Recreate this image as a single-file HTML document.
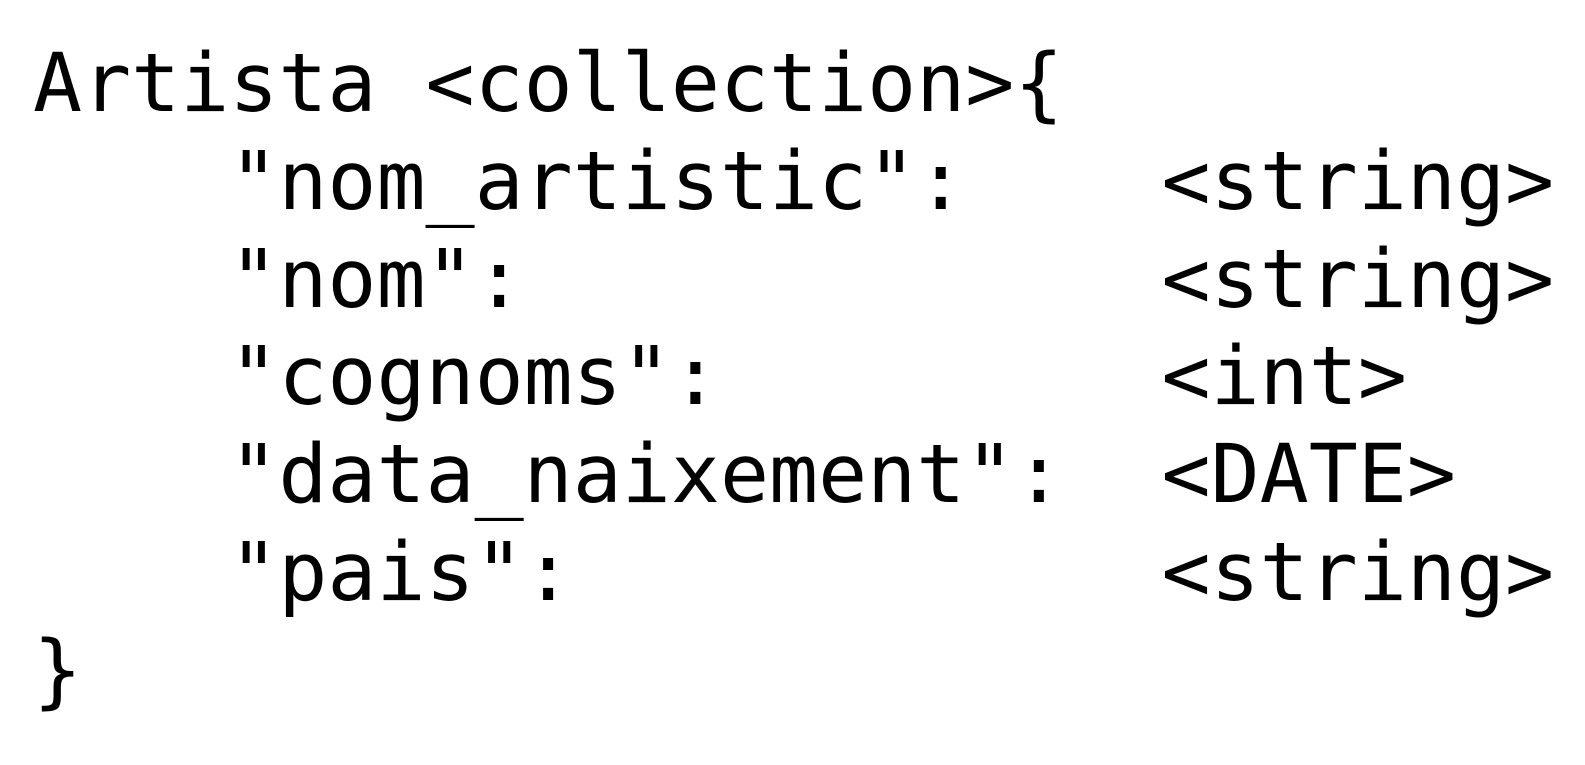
<!DOCTYPE html>
<html>
<head>
<meta charset="utf-8">
<style>
html,body{margin:0;padding:0;background:#fff;width:1585px;height:765px;overflow:hidden;}
pre{margin:0;position:absolute;left:33px;top:35px;font-family:"DejaVu Sans Mono","Liberation Mono",monospace;font-size:81.5px;line-height:97.8px;color:#000;}
</style>
</head>
<body>
<pre>Artista &lt;collection&gt;{
    "nom_artistic":    &lt;string&gt;
    "nom":             &lt;string&gt;
    "cognoms":         &lt;int&gt;
    "data_naixement":  &lt;DATE&gt;
    "pais":            &lt;string&gt;
}</pre>
</body>
</html>
